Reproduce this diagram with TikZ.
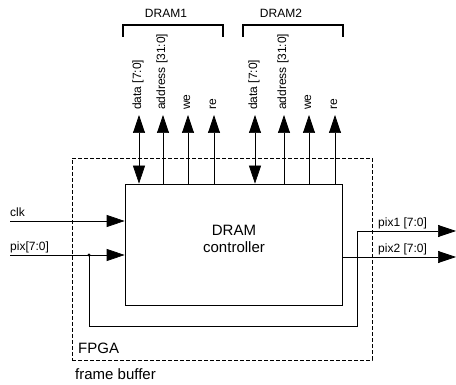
\documentclass[tikz,border=0pt]{standalone}
\usepackage{fontspec}
\setmainfont{Liberation Sans}
\usetikzlibrary{arrows.meta, positioning, calc}

\begin{document}
\begin{tikzpicture}[
  x=1pt, y=-1pt,
  sig/.style={draw, line width=0.7pt, -{Triangle[length=18pt,width=12pt]}},
  bus/.style={draw, line width=0.7pt, {Triangle[length=18pt,width=12pt]}-{Triangle[length=18pt,width=12pt]}},
  pin/.style={font=\fontsize{12}{14}\selectfont, inner sep=0pt},
  pinlbl/.style={pin, rotate=90, anchor=west},
  big/.style={font=\fontsize{15}{17}\selectfont, inner sep=0pt},
  block/.style={draw, line width=0.7pt, minimum width=217pt, minimum height=121pt},
  chip/.style={draw, dash pattern=on 4pt off 2pt, line width=0.7pt, minimum width=300pt, minimum height=202pt},
  bracket/.style={draw, line width=1.4pt}
]
  \useasboundingbox (0,0) rectangle (456,385);

  % FPGA and controller
  \node[chip] (fpga) at (222,259) {};
  \node[block] (ctrl) at (233.5,244.5) {};
  \node[big, align=center] (ctrltxt) at (234,239) {DRAM\\controller};
  \node[big, anchor=base west] (fpgalbl) at (78,353) {FPGA};
  \node[big, anchor=base west] (title) at (75,380) {frame buffer};

  % DRAM brackets
  \node[pin] (dram1) at (166,13) {DRAM1};
  \node[pin] (dram2) at (281,13) {DRAM2};
  \draw[bracket] (123,37) -- (123,25) -- (223,25) -- (223,37);
  \draw[bracket] (243,37) -- (243,25) -- (343,25) -- (343,37);

  % DRAM pins
  \foreach \x/\n/\s/\t in {139/d1/bus/{data [7:0]}, 163/a1/sig/{address [31:0]},
                           188/w1/sig/we, 214/r1/sig/re,
                           255/d2/bus/{data [7:0]}, 284/a2/sig/{address [31:0]},
                           309/w2/sig/we, 335/r2/sig/re} {
    \coordinate (\n) at (\x,115);
    \draw[\s] (ctrl.north -| \n) -- (\n);
    \node[pinlbl] (\n lbl) at ([yshift=5pt,xshift=-1pt]\n) {\t};
  }

  % inputs
  \coordinate (clkin) at (10,221);
  \coordinate (pixin) at (10,255);
  \draw[sig] (clkin) -- (clkin -| ctrl.west);
  \draw[sig] (pixin) -- (pixin -| ctrl.west);
  \node[pin, anchor=base west] (clklbl) at (10,217) {clk};
  \node[pin, anchor=base west] (pixlbl) at (10,251) {pix[7:0]};

  % bypass and outputs
  \coordinate (tap) at (89,255);
  \coordinate (loop) at (357,326);
  \coordinate (pix1out) at (456,231);
  \coordinate (pix2out) at (456,257);
  \fill (tap) circle (1.6pt);
  \draw[sig] (tap) |- (loop) |- (pix1out);
  \draw[sig] (ctrl.east |- pix2out) -- (pix2out);
  \node[pin, anchor=base west] (pix1lbl) at (378,227) {pix1 [7:0]};
  \node[pin, anchor=base west] (pix2lbl) at (378,253) {pix2 [7:0]};
\end{tikzpicture}
\end{document}
